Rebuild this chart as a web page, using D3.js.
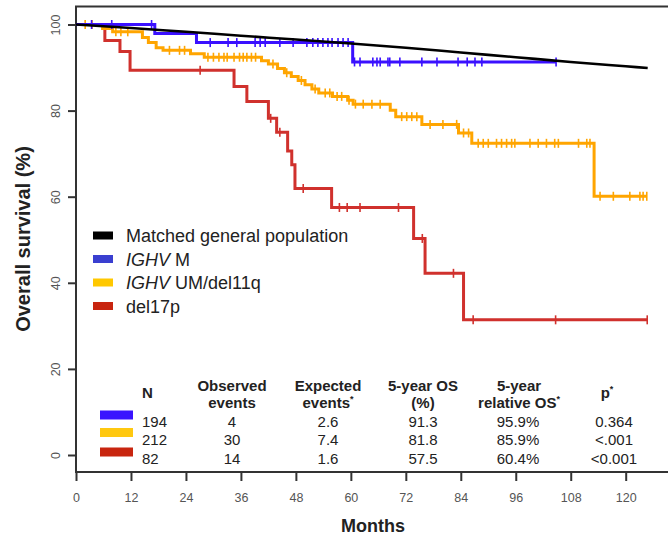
<!DOCTYPE html>
<html>
<head>
<meta charset="utf-8">
<script src="https://cdn.jsdelivr.net/npm/d3@7/dist/d3.min.js"></script>
<style>
  html, body { margin: 0; padding: 0; background: #fff; }
  svg { display: block; font-family: "Liberation Sans", Arial, Helvetica, sans-serif; }
</style>
</head>
<body>
<svg id="chart" width="668" height="538"></svg>
<script>
// ---- data -------------------------------------------------------------
const monthTicks = [0, 12, 24, 36, 48, 60, 72, 84, 96, 108, 120];
const survivalTicks = [0, 20, 40, 60, 80, 100];

// expected survival of the matched general population (smooth curve)
const populationCurve = [
  [0, 100], [12, 99.2], [24, 98.3], [36, 97.4], [48, 96.5], [60, 95.6],
  [72, 94.6], [84, 93.5], [96, 92.4], [108, 91.3], [120, 90.3], [124.8, 89.9]
];

// Kaplan-Meier steps: [month, survival %], last point = end of follow-up
const ighvMSteps = [[0, 100], [17.2, 97.9], [26.3, 95.8], [60.4, 91.3], [104.8, 91.3]];
const ighvMCensored = [3.4, 7.8, 16.5, 29.3, 33.2, 35.1, 39.1, 40.2, 41.3, 44.5, 47.4, 50.4,
  51.7, 52.8, 53.9, 55.0, 55.9, 57.2, 58.3, 59.4, 60.8, 62.0, 64.8, 65.7, 66.4, 68.1, 68.5,
  70.7, 75.5, 78.8, 83.4, 85.4, 87.1, 88.6, 104.8];

const ighvUMSteps = [[0, 100], [5.8, 99.1], [8.0, 98.3], [14.5, 97.0], [15.8, 95.8], [17.5, 94.6],
  [19.0, 94.0], [25.0, 93.2], [28.0, 92.4], [40.5, 91.6], [42.0, 90.8], [44.0, 89.8],
  [45.5, 88.8], [47.0, 87.9], [48.5, 87.0], [50.0, 86.0], [51.5, 85.0], [53.0, 84.1],
  [56.0, 83.3], [59.3, 82.4], [60.5, 81.5], [68.6, 80.1], [69.8, 78.6], [75.5, 76.8],
  [83.5, 74.8], [86.4, 72.4], [113.1, 60.1], [124.6, 60.1]];
const ighvUMCensored = [2.0, 3.5, 8.7, 9.8, 11.3, 20.4, 22.6, 23.7, 28.8, 30.0, 31.2, 32.3,
  33.0, 34.5, 35.7, 36.5, 37.3, 38.3, 39.2, 43.0, 46.0, 49.2, 52.2, 54.4, 55.4, 57.0, 58.0,
  59.6, 61.0, 62.7, 64.6, 66.4, 71.1, 72.2, 73.3, 74.4, 77.3, 80.1, 83.1, 84.6, 85.7, 87.8,
  88.9, 90.0, 91.8, 92.9, 94.0, 95.1, 95.8, 99.1, 100.9, 102.7, 104.5, 105.3, 109.7, 111.5,
  112.2, 114.4, 117.3, 120.9, 123.1, 123.8, 124.6];

const del17pSteps = [[0, 100], [6.3, 96.3], [9.6, 93.7], [11.8, 89.4], [34.5, 85.6], [37.3, 82.1],
  [42.0, 78.2], [43.8, 75.0], [46.2, 70.6], [47.1, 67.4], [47.8, 61.9], [55.8, 57.5],
  [73.7, 50.3], [76.2, 42.2], [84.6, 31.4], [124.7, 31.4]];
const del17pCensored = [27.1, 42.5, 44.5, 49.6, 57.5, 59.2, 62.0, 70.4, 75.6, 82.4, 86.7, 104.7, 124.7];

const legendLabels = ["Matched general population", "IGHV M", "IGHV UM/del11q", "del17p"];
const lineColors = ["#000000", "#3a10ff", "#ffa500", "#d0312d"];
const legendColors = ["#000000", "#3a3fd0", "#ffc800", "#c8250f"];
const barColors = ["#3a14ff", "#ffc810", "#c8250f"];

const tableN = ["194", "212", "82"];
const observedEvents = ["4", "30", "14"];
const expectedEvents = ["2.6", "7.4", "1.6"];
const fiveYearOS = ["91.3", "81.8", "57.5"];
const relativeOS = ["95.9%", "85.9%", "60.4%"];
const pValues = ["0.364", "<.001", "<0.001"];

// ---- scales -------------------------------------------------------------
const svg = d3.select("#chart");
const x = d3.scaleLinear().domain([0, 120]).range([76, 625.7]);
const y = d3.scaleLinear().domain([0, 100]).range([455, 24.5]);
const textColor = "#222";

// frame (open on the right, beyond the drawing area)
svg.append("path")
  .attr("d", "M668,6.5 H76 V472 H668")
  .attr("fill", "none").attr("stroke", "#333").attr("stroke-width", 2);

// x axis
const xAxis = svg.append("g")
  .attr("transform", "translate(0,472)")
  .call(d3.axisBottom(x).tickValues(monthTicks).tickSize(9).tickFormat(d3.format("d")));
xAxis.select(".domain").remove();
xAxis.selectAll(".tick line").attr("stroke", "#333").attr("stroke-width", 2);
xAxis.selectAll(".tick text")
  .attr("y", 30).attr("dy", null)
  .attr("fill", "#555").attr("font-size", 12.5)
  .attr("font-family", "'Liberation Sans', Arial, sans-serif");

// y axis
const yAxis = svg.append("g")
  .attr("transform", "translate(76,0)")
  .call(d3.axisLeft(y).tickValues(survivalTicks).tickSize(8).tickFormat(d3.format("d")));
yAxis.select(".domain").remove();
yAxis.selectAll(".tick line").attr("stroke", "#333").attr("stroke-width", 2);
yAxis.selectAll(".tick text")
  .attr("x", null).attr("dy", null)
  .attr("transform", "translate(-16,0) rotate(-90)")
  .attr("text-anchor", "middle")
  .attr("fill", "#555").attr("font-size", 12.5)
  .attr("font-family", "'Liberation Sans', Arial, sans-serif");

// axis titles
svg.append("text")
  .attr("transform", "translate(30,239) rotate(-90)")
  .attr("text-anchor", "middle")
  .attr("font-size", 20).attr("font-weight", "bold").attr("fill", textColor)
  .text("Overall survival (%)");
svg.append("text")
  .attr("x", 373).attr("y", 532)
  .attr("text-anchor", "middle")
  .attr("font-size", 18).attr("font-weight", "bold").attr("fill", textColor)
  .text("Months");

// ---- curves -------------------------------------------------------------
const smoothLine = d3.line().x(d => x(d[0])).y(d => y(d[1])).curve(d3.curveMonotoneX);
const stepLine = d3.line().x(d => x(d[0])).y(d => y(d[1])).curve(d3.curveStepAfter);

function survivalAt(steps, t) {
  let s = steps[0][1];
  for (const [m, v] of steps) { if (m <= t) s = v; }
  return s;
}

const groups = [
  { steps: ighvMSteps, censored: ighvMCensored, color: lineColors[1] },
  { steps: ighvUMSteps, censored: ighvUMCensored, color: lineColors[2] },
  { steps: del17pSteps, censored: del17pCensored, color: lineColors[3] }
];

// draw del17p first, population line last (on top)
[...groups].reverse().forEach(g => {
  svg.append("path")
    .datum(g.steps)
    .attr("d", stepLine)
    .attr("fill", "none").attr("stroke", g.color)
    .attr("stroke-width", 3).attr("stroke-linejoin", "miter");
  svg.append("g").selectAll("line")
    .data(g.censored)
    .join("line")
    .attr("x1", d => x(d)).attr("x2", d => x(d))
    .attr("y1", d => y(survivalAt(g.steps, d)) - 4.5)
    .attr("y2", d => y(survivalAt(g.steps, d)) + 4.5)
    .attr("stroke", g.color).attr("stroke-width", 1.6);
});

svg.append("path")
  .datum(populationCurve)
  .attr("d", smoothLine)
  .attr("fill", "none").attr("stroke", lineColors[0]).attr("stroke-width", 2.6);

// ---- legend -------------------------------------------------------------
const legendTop = 235.5, legendStep = 23.5;
const legend = svg.append("g");
legendLabels.forEach((label, i) => {
  const cy = legendTop + i * legendStep;
  legend.append("rect")
    .attr("x", 93).attr("y", cy - 4).attr("width", 20).attr("height", 8)
    .attr("fill", legendColors[i]);
  const t = legend.append("text")
    .attr("x", 126).attr("y", cy + 6.5)
    .attr("font-size", 18).attr("fill", textColor);
  if (label.startsWith("IGHV")) {
    t.append("tspan").attr("font-style", "italic").text("IGHV");
    t.append("tspan").text(label.slice(4));
  } else {
    t.text(label);
  }
});

// ---- summary table -------------------------------------------------------
const table = svg.append("g").attr("fill", textColor).attr("font-size", 15);
const rowBaselines = [426.5, 445, 463.5];
const barCenters = [415, 432.5, 452];

function header(cx, lines, baseline) {
  lines.forEach((ln, k) => {
    const t = table.append("text")
      .attr("x", cx).attr("y", baseline + k * 17.6)
      .attr("text-anchor", "middle").attr("font-weight", "bold");
    if (ln.endsWith("*")) {
      t.append("tspan").text(ln.slice(0, -1));
      t.append("tspan").attr("font-size", 9).attr("dy", -6).text("*");
    } else {
      t.text(ln);
    }
  });
}

table.append("text").attr("x", 142).attr("y", 398.3).attr("font-weight", "bold").text("N");
header(232, ["Observed", "events"], 390.7);
header(328, ["Expected", "events*"], 390.7);
header(423, ["5-year OS", "(%)"], 390.7);
header(519, ["5-year", "relative OS*"], 390.7);
header(607, ["p*"], 398);

barColors.forEach((c, i) => {
  table.append("rect")
    .attr("x", 100).attr("y", barCenters[i] - 4.5).attr("width", 33).attr("height", 9)
    .attr("fill", c);
});

const columns = [
  { values: tableN, x: 142, anchor: "start" },
  { values: observedEvents, x: 232, anchor: "middle" },
  { values: expectedEvents, x: 328, anchor: "middle" },
  { values: fiveYearOS, x: 423, anchor: "middle" },
  { values: relativeOS, x: 518, anchor: "middle" },
  { values: pValues, x: 614, anchor: "middle" }
];
columns.forEach(col => {
  col.values.forEach((v, i) => {
    table.append("text")
      .attr("x", col.x).attr("y", rowBaselines[i])
      .attr("text-anchor", col.anchor)
      .text(v);
  });
});
</script>
</body>
</html>
